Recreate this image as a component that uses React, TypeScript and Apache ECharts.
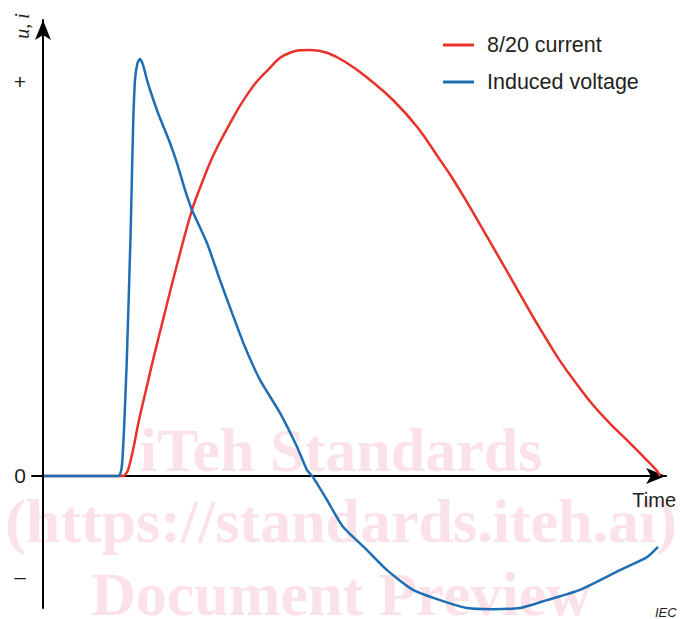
import React, { useEffect, useRef } from "react";
import * as echarts from "echarts";

// Time (arbitrary units) and values (scaled so that "+" = 100)
const currentTime = [0.1, 7.9, 8.2, 8.5, 9.0, 9.6, 10.3, 11.0, 12.0, 13.4, 14.9, 15.7, 17.0, 18.4, 20.4, 22.4, 24.7, 26.7, 28.4, 30.4, 32.7, 35.0, 37.4, 39.7, 40.7, 42.4, 44.0, 45.7, 47.4, 49.0, 50.4, 51.7, 53.4, 55.0, 56.7, 58.4, 60.0, 61.4, 61.7];
const currentValue = [0, 0, 0.3, 1.5, 6.6, 14.2, 21.8, 29.4, 39.6, 53.6, 67.5, 73.1, 81.2, 88.1, 96.7, 102.8, 107.4, 108.1, 107.4, 104.8, 100.5, 95.4, 88.6, 80.2, 76.5, 69.5, 62.5, 55.0, 47.5, 40.4, 34.5, 29.2, 23.2, 18.0, 13.3, 9.1, 5.0, 1.3, 0];

const voltageTime = [0.1, 3.7, 7.5, 7.7, 7.9, 8.1, 8.37, 8.77, 9.0, 9.2, 9.45, 9.7, 10.0, 10.4, 10.7, 11.5, 12.7, 13.4, 14.2, 14.9, 16.4, 17.7, 18.9, 20.2, 21.7, 23.7, 25.4, 26.4, 27.0, 28.4, 30.0, 32.4, 34.4, 37.0, 39.7, 42.4, 45.0, 47.7, 50.4, 53.7, 57.7, 60.4, 61.5];
const voltageValue = [0, 0, 0, 0.3, 2.8, 11.7, 28.7, 62.4, 87.8, 100.5, 104.8, 105.8, 104.3, 100.5, 98.0, 92.1, 84.5, 79.4, 72.6, 67.5, 59.1, 49.7, 41.4, 32.7, 24.4, 16.0, 7.4, 1.5, -0.3, -6.1, -12.9, -18.8, -23.9, -28.9, -31.5, -33.5, -33.8, -33.5, -31.5, -28.9, -23.9, -20.6, -18.0];

const yTickValues = [-25.6, 0, 100];
const yTickLabels = ["–", "0", "+"];
const seriesNames = ["8/20 current", "Induced voltage"];
const seriesColors = ["#e8322a", "#1f6eb4"];
const watermarkLines = ["iTeh Standards", "(https://standards.iteh.ai)", "Document Preview"];

export default function App() {
  const ref = useRef<HTMLDivElement>(null);
  useEffect(() => {
    const chart = echarts.init(ref.current!, null, { renderer: "svg" });
    const zip = (xs: number[], ys: number[]) => xs.map((x, i) => [x, ys[i]]);
    const sans = "Liberation Sans";
    const wmY = [450, 521, 594];
    chart.setOption({
      animation: false,
      backgroundColor: "#ffffff",
      grid: { left: 32, right: 14, top: 20, bottom: 11 },
      xAxis: {
        type: "value",
        min: -1.1,
        max: 62.3,
        axisLine: {
          onZero: true,
          lineStyle: { color: "#000", width: 2 },
          symbol: ["none", "arrow"],
          symbolSize: [12, 20],
        },
        axisTick: { show: false },
        axisLabel: { show: false },
        splitLine: { show: false },
        name: "Time",
        nameLocation: "end",
        nameGap: 0,
        nameTextStyle: {
          fontFamily: sans,
          fontSize: 20,
          color: "#231f20",
          align: "right",
          verticalAlign: "top",
          padding: [14, -10, 0, 0],
        },
      },
      yAxis: {
        type: "value",
        min: -33.5,
        max: 115.7,
        axisLine: {
          onZero: true,
          lineStyle: { color: "#000", width: 2 },
          symbol: ["none", "arrow"],
          symbolSize: [12, 20],
        },
        axisTick: { show: false },
        splitLine: { show: false },
        axisLabel: {
          customValues: yTickValues,
          formatter: (v: number) => {
            const i = yTickValues.findIndex((t) => Math.abs(t - v) < 1e-6);
            return i >= 0 ? yTickLabels[i] : "";
          },
          margin: 6,
          fontFamily: sans,
          fontSize: 21,
          color: "#231f20",
        },
      },
      legend: {
        orient: "vertical",
        left: 438,
        top: 29,
        itemWidth: 31,
        itemHeight: 3,
        itemGap: 15,
        icon: "rect",
        textStyle: { fontFamily: sans, fontSize: 21.5, color: "#231f20", padding: [0, 0, 0, 8] },
        data: seriesNames,
      },
      graphic: [
        ...watermarkLines.map((t, i) => ({
          type: "text",
          x: 341,
          y: wmY[i],
          z: -5,
          silent: true,
          style: {
            text: t,
            font: "bold 62px 'Liberation Serif'",
            fill: "#fbe2e9",
            align: "center",
            verticalAlign: "middle",
          },
        })),
        {
          type: "text",
          x: 22,
          y: 26,
          rotation: Math.PI / 2,
          style: {
            text: "u, i",
            font: "italic 20px 'Liberation Serif'",
            fill: "#231f20",
            align: "center",
            verticalAlign: "middle",
          },
        },
        {
          type: "text",
          x: 655,
          y: 612,
          style: {
            text: "IEC",
            font: "italic 13px 'Liberation Sans'",
            fill: "#231f20",
            align: "left",
            verticalAlign: "middle",
          },
        },
      ],
      series: [
        {
          name: seriesNames[0],
          type: "line",
          data: zip(currentTime, currentValue),
          showSymbol: false,
          symbol: "none",
          smooth: 0.45,
          clip: false,
          lineStyle: { color: seriesColors[0], width: 2.5 },
          itemStyle: { color: seriesColors[0] },
          z: 3,
        },
        {
          name: seriesNames[1],
          type: "line",
          data: zip(voltageTime, voltageValue),
          showSymbol: false,
          symbol: "none",
          smooth: 0.2,
          clip: false,
          lineStyle: { color: seriesColors[1], width: 2.5 },
          itemStyle: { color: seriesColors[1] },
          z: 4,
        },
      ],
    });
    return () => chart.dispose();
  }, []);
  return (
    <div
      ref={ref}
      style={{ position: "fixed", left: 0, top: 0, width: 680, height: 619 }}
    />
  );
}
